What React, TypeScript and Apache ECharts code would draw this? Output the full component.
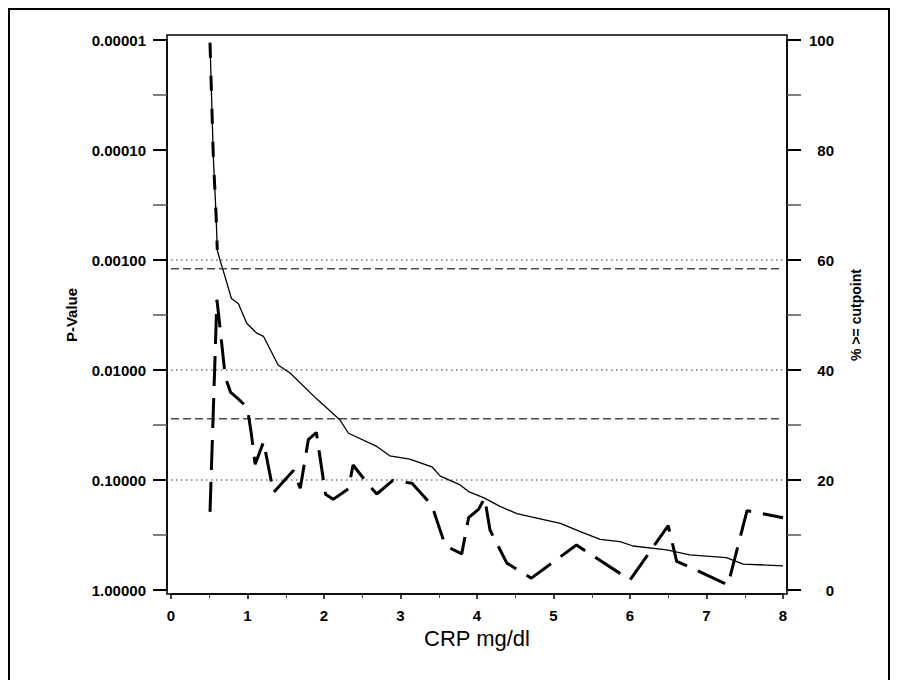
import React, { useEffect, useRef } from "react";
import * as echarts from "echarts";

// CRP cutpoints (mg/dl) and the p-value of the group comparison at each cutpoint
const pCutpoints = [0.51, 0.6, 0.63, 0.66, 0.71, 0.78, 0.86, 0.97, 1.01, 1.05, 1.1, 1.21, 1.34, 1.6, 1.69, 1.795, 1.9, 2.02, 2.12, 2.32, 2.38, 2.58, 2.69, 2.9, 3.02, 3.15, 3.41, 3.56, 3.6, 3.8, 3.89, 4.02, 4.1, 4.17, 4.39, 4.71, 5.3, 6.0, 6.5, 6.61, 6.76, 7.28, 7.53, 8.0];
const pValues = [0.195, 0.0023, 0.0035, 0.0055, 0.0116, 0.016, 0.0178, 0.021, 0.025, 0.038, 0.072, 0.045, 0.13, 0.082, 0.119, 0.043, 0.037, 0.135, 0.15, 0.12, 0.073, 0.11, 0.134, 0.101, 0.104, 0.107, 0.17, 0.35, 0.4, 0.47, 0.22, 0.185, 0.146, 0.285, 0.57, 0.78, 0.39, 0.81, 0.26, 0.55, 0.61, 0.9, 0.19, 0.22];

// Lowest cutpoints, where the p-value is far below 0.001
const earlyCutpoints = [0.51, 0.553, 0.59, 0.605];
const earlyPValues = [0.0000106, 0.000115, 0.0004, 0.00081];

// Percentage of patients at or above each cutpoint
const pctCutpoints = [0.51, 0.553, 0.59, 0.605, 0.64, 0.68, 0.79, 0.88, 0.99, 1.12, 1.21, 1.4, 1.56, 1.9, 2.21, 2.32, 2.69, 2.86, 3.12, 3.41, 3.52, 3.78, 3.89, 4.1, 4.3, 4.52, 4.87, 5.09, 5.35, 5.61, 5.87, 6.04, 6.48, 6.78, 7.26, 7.48, 8.0];
const pctAbove = [99.5, 78.8, 67.9, 61.8, 60, 58.2, 53, 52.1, 48.5, 46.7, 46.1, 40.9, 39.4, 34.8, 30.9, 28.5, 26.1, 24.4, 23.8, 22.4, 20.7, 19.1, 17.9, 16.7, 15.2, 13.9, 12.8, 12.1, 10.6, 9.2, 8.8, 8.0, 7.3, 6.4, 5.9, 4.7, 4.4];

// Reference levels on the p-value scale
const dottedLevels = [0.001, 0.01, 0.1];
const dashedLevels = [0.0012, 0.0277];

// CRP axis range
const X_MIN = 0;
const X_MAX = 8;

const FONT = "'Liberation Sans', Arial, sans-serif";

const zip = (xs: number[], ys: number[]) => xs.map((x, i) => [x, ys[i]]);

// a horizontal reference line across the whole CRP range, on the p-value axis
const levelSeries = (level: number, lineStyle: object) => ({
  type: "line" as const,
  yAxisIndex: 0,
  data: [
    [X_MIN, level],
    [X_MAX, level],
  ],
  symbol: "none",
  silent: true,
  lineStyle,
  z: 1,
});

export default function App() {
  const ref = useRef<HTMLDivElement>(null);

  useEffect(() => {
    if (!ref.current) return;
    const chart = echarts.init(ref.current, undefined, { renderer: "svg" });

    const gridLeft = 161;
    const gridTop = 30;
    const gridWidth = 612;
    const gridHeight = 550;
    const axisOffset = 4;

    const tickLabel = {
      fontSize: 15,
      fontWeight: "bold" as const,
      color: "#000",
      fontFamily: FONT,
    };
    const axisLine = { show: true, onZero: false, lineStyle: { color: "#000", width: 1.5 } };

    const option: echarts.EChartsOption = {
      animation: false,
      backgroundColor: "#fff",
      grid: { left: gridLeft, top: gridTop, width: gridWidth, height: gridHeight },
      graphic: [
        {
          type: "rect",
          shape: {
            x: gridLeft - axisOffset,
            y: gridTop - 5,
            width: gridWidth + 2 * axisOffset,
            height: gridHeight + 5 + axisOffset,
          },
          style: { fill: "none", stroke: "#000", lineWidth: 1.5 },
          z: 0,
          silent: true,
        },
      ],
      xAxis: {
        type: "value",
        min: X_MIN,
        max: X_MAX,
        interval: 1,
        offset: axisOffset,
        axisLine,
        axisTick: { show: true, length: 5, lineStyle: { color: "#000", width: 1.5 } },
        minorTick: { show: true, splitNumber: 2, length: 4, lineStyle: { color: "#444", width: 1 } },
        splitLine: { show: false },
        axisLabel: { ...tickLabel, margin: 14 },
        name: "CRP mg/dl",
        nameLocation: "middle",
        nameGap: 32,
        nameTextStyle: { fontSize: 22, color: "#000", fontFamily: FONT },
      },
      yAxis: [
        {
          type: "log",
          logBase: 10,
          min: 0.00001,
          max: 1,
          inverse: true,
          position: "left",
          offset: axisOffset,
          axisLine,
          axisTick: { show: false },
          splitLine: { show: false },
          axisLabel: {
            ...tickLabel,
            margin: 21,
            formatter: (v: number) => v.toFixed(5),
          },
          name: "P-Value",
          nameLocation: "middle",
          nameRotate: 90,
          nameGap: 88,
          nameTextStyle: { fontSize: 15, fontWeight: "bold", color: "#000", fontFamily: FONT },
        },
        {
          type: "value",
          min: 0,
          max: 100,
          interval: 20,
          position: "right",
          offset: axisOffset,
          axisLine,
          axisTick: { show: true, length: 14, lineStyle: { color: "#000", width: 2 } },
          minorTick: { show: true, splitNumber: 2, length: 14, lineStyle: { color: "#555", width: 1.5 } },
          splitLine: { show: false },
          axisLabel: { ...tickLabel, margin: 47, align: "right" },
          name: "% >= cutpoint",
          nameLocation: "middle",
          nameRotate: 90,
          nameGap: 62,
          nameTextStyle: { fontSize: 14, fontWeight: "bold", color: "#000", fontFamily: FONT },
        },
        {
          // decade and half-decade tick marks of the p-value scale
          type: "value",
          min: 0,
          max: 100,
          interval: 20,
          position: "left",
          offset: axisOffset,
          axisLine: { show: false, onZero: false },
          axisTick: { show: true, length: 14, lineStyle: { color: "#000", width: 2 } },
          minorTick: { show: true, splitNumber: 2, length: 14, lineStyle: { color: "#555", width: 1.5 } },
          splitLine: { show: false },
          axisLabel: { show: false },
        },
      ],
      series: [
        ...dottedLevels.map((v) =>
          levelSeries(v, { color: "#333", width: 1, type: [1.5, 3.5] })
        ),
        ...dashedLevels.map((v) =>
          levelSeries(v, { color: "#4a4a4a", width: 1.5, type: [8, 4] })
        ),
        {
          type: "line",
          name: "% >= cutpoint",
          yAxisIndex: 1,
          data: zip(pctCutpoints, pctAbove),
          symbol: "none",
          lineStyle: { color: "#000", width: 1.3 },
          z: 3,
        },
        {
          type: "line",
          name: "P-Value",
          yAxisIndex: 0,
          data: zip(pCutpoints, pValues),
          symbol: "none",
          lineStyle: { color: "#000", width: 3, type: [30, 12] },
          z: 4,
        },
        {
          type: "line",
          name: "P-Value low",
          yAxisIndex: 0,
          data: zip(earlyCutpoints, earlyPValues),
          symbol: "none",
          lineStyle: { color: "#000", width: 3, type: [15, 18] },
          z: 4,
        },
      ],
    };

    chart.setOption(option);
    return () => chart.dispose();
  }, []);

  return (
    <div
      style={{
        width: 878,
        height: 670,
        border: "2px solid #000",
        borderBottom: "none",
        background: "#fff",
      }}
    >
      <div ref={ref} style={{ width: 878, height: 670 }} />
    </div>
  );
}
